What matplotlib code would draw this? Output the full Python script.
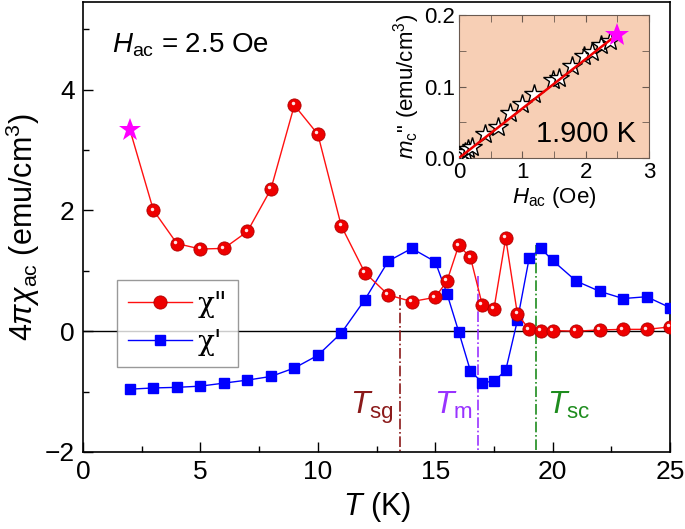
import matplotlib
matplotlib.use("Agg")
import matplotlib.pyplot as plt
from matplotlib.ticker import MultipleLocator
from matplotlib.transforms import ScaledTranslation

plt.rcParams['font.family'] = ['Liberation Sans', 'DejaVu Sans']
plt.rcParams['mathtext.fontset'] = 'custom'
plt.rcParams['mathtext.rm'] = 'Liberation Sans'
plt.rcParams['mathtext.it'] = 'Liberation Sans:italic'
plt.rcParams['mathtext.bf'] = 'Liberation Sans:bold'

# chi'' (red) vs T
T_red = [3, 4, 5, 6, 7, 8, 9, 10, 11, 12, 13, 14, 15, 15.5, 16, 16.5, 17, 17.5,
         18, 18.5, 19, 19.5, 20, 21, 22, 23, 24, 25]
chi2 = [2.0, 1.45, 1.36, 1.37, 1.65, 2.35, 3.74, 3.26, 1.74, 0.97, 0.6, 0.49,
        0.56, 0.83, 1.42, 1.22, 0.44, 0.37, 1.54, 0.28, 0.03, 0.01, 0.01, 0.0,
        0.02, 0.03, 0.03, 0.07]
# first chi'' point (magenta star)
T_star = 2
chi2_star = 3.33

# chi' (blue) vs T
T_blue = [2, 3, 4, 5, 6, 7, 8, 9, 10, 11, 12, 13, 14, 15, 15.5, 16, 16.5, 17,
          17.5, 18, 18.5, 19, 19.5, 20, 21, 22, 23, 24, 25]
chi1 = [-0.96, -0.94, -0.93, -0.91, -0.86, -0.81, -0.75, -0.61, -0.40, -0.03,
        0.52, 1.16, 1.37, 1.15, 0.62, -0.01, -0.66, -0.85, -0.83, -0.65, 0.18,
        1.21, 1.37, 1.17, 0.83, 0.66, 0.54, 0.57, 0.39]

# transition temperatures and where their markers start
T_sg, T_m, T_sc = 13.5, 16.8, 19.3
top_sg, top_m, top_sc = 0.6, 0.91, 1.42

# inset: m_c'' vs H_ac at 1.900 K
H_ac = [0.02, 0.05, 0.1, 0.15, 0.2, 0.41, 0.61, 0.8, 0.99, 1.19, 1.48, 1.58,
        1.78, 1.97, 2.1, 2.24, 2.39]
m_c = [0.002, 0.004, 0.008, 0.012, 0.015, 0.034, 0.044, 0.063, 0.076, 0.089,
       0.109, 0.112, 0.129, 0.143, 0.148, 0.158, 0.164]
H_star, m_star = 2.5, 0.172
fit_H = [0, 2.4]
fit_m = [0, 0.166]

fig = plt.figure(figsize=(6.85, 5.29), dpi=100)
ax = fig.add_axes([0.1212, 0.1456, 0.857, 0.8507])

ax.axhline(0, color='black', lw=1, zorder=1)

ax.plot(T_red, chi2, '-o', color='#ff1010', lw=1, ms=9.5, mfc='#ee0000',
        mec='#b00000', mew=0.6, label='χ"', zorder=4)
# small highlight on the red balls
hl = ax.transData + ScaledTranslation(-1.3 / 72, 1.3 / 72, fig.dpi_scale_trans)
ax.plot(T_red, chi2, 'o', color='white', ms=2.5, mew=0, alpha=0.9,
        transform=hl, zorder=5)
ax.plot([T_star, T_red[0]], [chi2_star, chi2[0]], '-', color='#ff1010', lw=1,
        zorder=3)
ax.plot([T_star], [chi2_star], '*', color='#ff00ff', ms=17, mew=0, zorder=6)

ax.plot(T_blue, chi1, '-s', color='#0000ff', lw=1, ms=7, label="χ'", zorder=3)

ax.plot([T_sg, T_sg], [top_sg, -2], '-.', color='#8b1a1a', lw=1.2, zorder=2)
ax.plot([T_m, T_m], [top_m, -2], '-.', color='#9933ff', lw=1.2, zorder=2)
ax.plot([T_sc, T_sc], [top_sc, -2], '-.', color='#1e8c1e', lw=1.2, zorder=2)

ax.text(11.35, -1.37, r'$T_{\rm sg}$', color='#8b1a1a', fontsize=23)
ax.text(14.95, -1.37, r'$T_{\rm m}$', color='#9933ff', fontsize=23)
ax.text(19.75, -1.37, r'$T_{\rm sc}$', color='#1e8c1e', fontsize=23)

ax.text(1.25, 4.62, r'$H_{\rm ac}$ = 2.5 Oe', fontsize=20)

ax.set_xlim(0, 25)
ax.set_ylim(-2, 5.45)
ax.xaxis.set_major_locator(MultipleLocator(5))
ax.xaxis.set_minor_locator(MultipleLocator(2.5))
ax.yaxis.set_major_locator(MultipleLocator(2))
ax.yaxis.set_minor_locator(MultipleLocator(1))
ax.tick_params(which='both', direction='in', labelsize=19, width=1)
ax.tick_params(which='major', length=7, pad=6)
ax.tick_params(which='minor', length=4)
ax.set_xlabel(r'$T$ (K)', fontsize=22, labelpad=4)
ax.set_ylabel(r'$4\pi\chi_{\rm ac}$ (emu/cm$^3$)', fontsize=22, labelpad=2)
for s in ax.spines.values():
    s.set_linewidth(1.2)

leg = ax.legend(loc='lower left', bbox_to_anchor=(0.058, 0.189),
                borderaxespad=0, prop={'family': 'DejaVu Serif', 'size': 20},
                frameon=True, fancybox=False, edgecolor='#808080',
                handlelength=2.3, borderpad=0.4, labelspacing=0.4,
                handletextpad=0.2)
leg.get_frame().set_linewidth(1)

# inset
ins = fig.add_axes([0.670, 0.7013, 0.2774, 0.2703])
ins.set_facecolor('#f7cfb5')
ins.plot(H_ac, m_c, '*', ms=15, mfc='white', mec='black', mew=1, zorder=3)
ins.plot(fit_H, fit_m, '-', color='#ee0000', lw=1.8, zorder=4)
ins.plot([H_star], [m_star], '*', color='#ff00ff', ms=18, mew=0, zorder=5)
ins.text(2.8, 0.0225, '1.900 K', fontsize=21, ha='right')
ins.set_xlim(0, 3)
ins.set_ylim(0, 0.2)
ins.xaxis.set_major_locator(MultipleLocator(1))
ins.xaxis.set_minor_locator(MultipleLocator(0.5))
ins.yaxis.set_major_locator(MultipleLocator(0.1))
ins.yaxis.set_minor_locator(MultipleLocator(0.05))
ins.tick_params(which='both', direction='in', top=True, right=True,
                labelsize=16, color='#6a5a50', pad=3)
ins.tick_params(which='major', length=5)
ins.tick_params(which='minor', length=5)
for s in ins.spines.values():
    s.set_color('#6a5a50')
ins.set_xlabel(r'$H_{\rm ac}$ (Oe)', fontsize=16, labelpad=1)
ins.set_ylabel(r'$m_{\rm c}$" (emu/cm$^3$)', fontsize=16, labelpad=1)

fig.savefig('out.png', dpi=100)
